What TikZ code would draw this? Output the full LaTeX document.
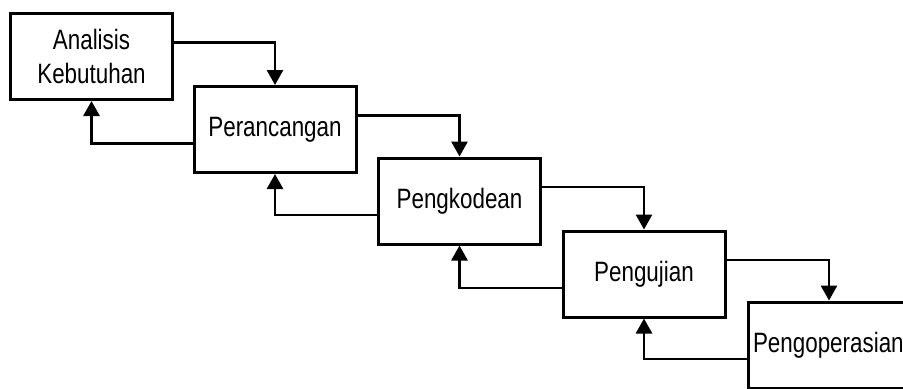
\documentclass[tikz,border=0pt]{standalone}
\usepackage{fontspec}
\setmainfont[FakeStretch=0.8]{Liberation Sans}
\usepackage{tikz}
\usetikzlibrary{arrows.meta}

\begin{document}
\begin{tikzpicture}[x=0.5pt, y=-0.5pt,
		tahap/.style={draw, line width=1.5pt, minimum width=81pt, minimum height=43pt, inner sep=0pt, align=center, font=\fontsize{14}{17}\selectfont},
		alir/.style={-{Triangle[length=7.5pt, width=8pt]}, line width=1.4pt}]
		\clip (0, 0) rectangle (903, 388);
		\node[tahap] (analisis) at (91.5, 56.5) {Analisis\\Kebutuhan};
		\node[tahap] (perancangan) at (275, 129.5) {Perancangan};
		\node[tahap] (pengkodean) at (459.5, 201) {Pengkodean};
		\node[tahap] (pengujian) at (644, 274) {Pengujian};
		\node[tahap, text width=76pt, align=left] (pengoperasian) at (829, 345) {Pengoperasian};
		\draw[alir] ([yshift=7pt]analisis.east) -| (perancangan.north);
		\draw[alir] ([yshift=7pt]perancangan.east) -| (pengkodean.north);
		\draw[alir] ([yshift=7pt]pengkodean.east) -| (pengujian.north);
		\draw[alir] ([yshift=7pt]pengujian.east) -| (pengoperasian.north);
		\draw[alir] ([yshift=-7pt]perancangan.west) -| (analisis.south);
		\draw[alir] ([yshift=-7pt]pengkodean.west) -| (perancangan.south);
		\draw[alir] ([yshift=-7pt]pengujian.west) -| (pengkodean.south);
		\draw[alir] ([yshift=-7pt]pengoperasian.west) -| (pengujian.south);
	\end{tikzpicture}
\end{document}
